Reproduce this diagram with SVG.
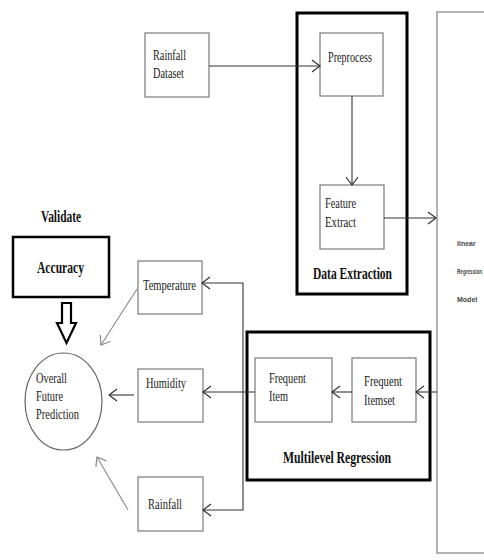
<svg xmlns="http://www.w3.org/2000/svg" width="484" height="560" viewBox="0 0 484 560">
<style>
.box{fill:#fff;stroke:#7a7a7a;stroke-width:1.2}
.grp{fill:none;stroke:#000;stroke-width:3}
.lbl{font-family:"Liberation Serif","Times New Roman",serif;font-size:15px;fill:#222}
.bold{font-family:"Liberation Serif","Times New Roman",serif;font-size:17px;font-weight:bold;fill:#111}
.small{font-family:"Liberation Sans",Arial,sans-serif;font-size:7px;font-weight:bold;fill:#444}
.con{fill:none;stroke:#333;stroke-width:1.1}
.diag{fill:none;stroke:#888;stroke-width:1.1}
</style>
<defs>
<marker id="open" markerUnits="userSpaceOnUse" viewBox="-10 -8 12 16" markerWidth="12" markerHeight="16" refX="0" refY="0" orient="auto">
<path d="M-8,-6 L0,0 L-8,6" fill="none" stroke="#333" stroke-width="1.2"/>
</marker>
<marker id="openg" markerUnits="userSpaceOnUse" viewBox="-10 -8 12 16" markerWidth="12" markerHeight="16" refX="0" refY="0" orient="auto">
<path d="M-8,-6 L0,0 L-8,6" fill="none" stroke="#888" stroke-width="1.2"/>
</marker>
</defs>
<rect width="484" height="560" fill="#fff"/>

<g id="linear-regression-model">
<rect x="437" y="12" width="60" height="541" fill="none" stroke="#999" stroke-width="1.5"/>
<text class="small" x="457" y="246">linear</text>
<text class="small" transform="translate(457,274) scale(0.66,1)" x="0" y="0">Regression</text>
<text class="small" x="457" y="302">Model</text>
</g>

<g id="data-extraction">
<rect class="grp" x="297" y="13" width="110" height="281"/>
<text class="bold" x="313" y="279" textLength="79" lengthAdjust="spacingAndGlyphs">Data Extraction</text>
</g>

<g id="multilevel-regression">
<rect class="grp" x="247" y="332" width="183" height="148"/>
<text class="bold" x="283" y="463" textLength="108" lengthAdjust="spacingAndGlyphs">Multilevel Regression</text>
</g>

<g id="rainfall-dataset">
<rect class="box" x="145" y="33" width="64" height="64"/>
<text class="lbl" x="153" y="60" textLength="33" lengthAdjust="spacingAndGlyphs">Rainfall</text>
<text class="lbl" x="153" y="78" textLength="31" lengthAdjust="spacingAndGlyphs">Dataset</text>
</g>

<g id="preprocess">
<rect class="box" x="320" y="33" width="63" height="63"/>
<text class="lbl" x="328" y="62" textLength="44" lengthAdjust="spacingAndGlyphs">Preprocess</text>
</g>

<g id="feature-extract">
<rect class="box" x="320" y="185" width="64" height="64"/>
<text class="lbl" x="325" y="208" textLength="31" lengthAdjust="spacingAndGlyphs">Feature</text>
<text class="lbl" x="325" y="227" textLength="31" lengthAdjust="spacingAndGlyphs">Extract</text>
</g>

<g id="frequent-itemset">
<rect class="box" x="352" y="358" width="64" height="64"/>
<text class="lbl" x="364" y="386" textLength="38" lengthAdjust="spacingAndGlyphs">Frequent</text>
<text class="lbl" x="364" y="405" textLength="31" lengthAdjust="spacingAndGlyphs">Itemset</text>
</g>

<g id="frequent-item">
<rect class="box" x="255" y="358" width="77" height="64"/>
<text class="lbl" x="269" y="383" textLength="37" lengthAdjust="spacingAndGlyphs">Frequent</text>
<text class="lbl" x="269" y="401" textLength="19" lengthAdjust="spacingAndGlyphs">Item</text>
</g>

<g id="temperature">
<rect class="box" x="138" y="261" width="64" height="53"/>
<text class="lbl" x="143" y="290" textLength="53" lengthAdjust="spacingAndGlyphs">Temperature</text>
</g>

<g id="humidity">
<rect class="box" x="138" y="369" width="65" height="53"/>
<text class="lbl" x="146" y="388" textLength="40" lengthAdjust="spacingAndGlyphs">Humidity</text>
</g>

<g id="rainfall">
<rect class="box" x="138" y="477" width="65" height="54"/>
<text class="lbl" x="148" y="509" textLength="34" lengthAdjust="spacingAndGlyphs">Rainfall</text>
</g>

<g id="overall-future-prediction">
<ellipse cx="63.5" cy="401.5" rx="38.5" ry="48.5" fill="#fff" stroke="#666" stroke-width="1.2"/>
<text class="lbl" x="36" y="383" textLength="31" lengthAdjust="spacingAndGlyphs">Overall</text>
<text class="lbl" x="36" y="401" textLength="27" lengthAdjust="spacingAndGlyphs">Future</text>
<text class="lbl" x="36" y="419" textLength="43" lengthAdjust="spacingAndGlyphs">Prediction</text>
</g>

<g id="validate-accuracy">
<text class="bold" x="41" y="222" textLength="40" lengthAdjust="spacingAndGlyphs">Validate</text>
<rect x="13" y="237" width="96" height="60" fill="#fff" stroke="#000" stroke-width="2.5"/>
<text class="bold" x="37" y="273" textLength="47" lengthAdjust="spacingAndGlyphs">Accuracy</text>
</g>

<g id="connectors">
<path class="con" d="M209,66 L320,66" marker-end="url(#open)"/>
<path class="con" d="M352,96 L352,185" marker-end="url(#open)"/>
<path class="con" d="M384,218 L436,218" marker-end="url(#open)"/>
<path class="con" d="M437,392 L416,392" marker-end="url(#open)"/>
<path class="con" d="M352,392 L332,392" marker-end="url(#open)"/>
<path class="con" d="M255,392 L203,392" marker-end="url(#open)"/>
<path class="con" d="M243,392 L243,283 L202,283" marker-end="url(#open)"/>
<path class="con" d="M243,392 L243,510 L203,510" marker-end="url(#open)"/>
<path class="con" d="M134,395 L109,395" marker-end="url(#open)"/>
<path class="diag" d="M137,289 L101,345" marker-end="url(#openg)"/>
<path class="diag" d="M128,510 L97,457" marker-end="url(#openg)"/>
<path d="M62,303 L71,303 L71,323 L76,323 L66.5,343 L57,323 L62,323 Z" fill="#fff" stroke="#000" stroke-width="2.2" stroke-linejoin="miter"/>
</g>
</svg>
